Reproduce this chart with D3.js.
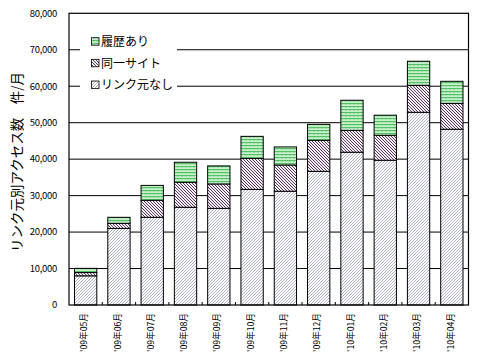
<!DOCTYPE html>
<html><head><meta charset="utf-8">
<script src="https://cdn.jsdelivr.net/npm/d3@7"></script>
<style>
body{margin:0;background:#fff;}
svg{display:block;}
text{font-family:"Noto Sans CJK JP","DejaVu Sans",sans-serif;fill:#000;}
</style></head>
<body>
<svg id="c" width="478" height="360"></svg>
<script>
const categories = ["'09年05月","'09年06月","'09年07月","'09年08月","'09年09月","'09年10月","'09年11月","'09年12月","'10年01月","'10年02月","'10年03月","'10年04月"];
const noSource = [8000,21000,24050,26800,26500,31700,31200,36650,41900,39700,52850,48200];
const sameSite = [900,1400,4650,6850,6700,8500,7200,8500,6000,6850,7400,7100];
const history  = [1150,1650,4100,5500,4950,6050,4950,4400,8250,5500,6600,6050];
const seriesNames = ["リンク元なし","同一サイト","履歴あり"];
const yTicks = [0,10000,20000,30000,40000,50000,60000,70000,80000];
const yTitle = "リンク元別アクセス数　件/月";

const svg = d3.select("#c");
const L=69, R=468.5, T=13.3, B=305;

// patterns
const defs = svg.append("defs");
const p1 = defs.append("pattern").attr("id","pBase").attr("patternUnits","userSpaceOnUse").attr("width",3).attr("height",3);
p1.append("rect").attr("width",3).attr("height",3).attr("fill","#fff");
p1.append("path").attr("d","M-1,1 L1,-1 M0,3 L3,0 M2,4 L4,2").attr("stroke","#9a9ab8").attr("stroke-width",0.8);
const p2 = defs.append("pattern").attr("id","pSame").attr("patternUnits","userSpaceOnUse").attr("width",3).attr("height",3);
p2.append("rect").attr("width",3).attr("height",3).attr("fill","#f2eef2");
p2.append("path").attr("d","M-1,2 L1,4 M0,0 L3,3 M2,-1 L4,1").attr("stroke","#5a3a60").attr("stroke-width",1);
const p3 = defs.append("pattern").attr("id","pHist").attr("patternUnits","userSpaceOnUse").attr("width",4).attr("height",3);
p3.append("rect").attr("width",4).attr("height",3).attr("fill","#eaf9ea");
p3.append("path").attr("d","M0,2.5 L1,0.8 L2,2.5 L3,0.8 L4,2.5").attr("stroke","#2fb845").attr("stroke-width",0.9).attr("fill","none");
const fills = ["url(#pBase)","url(#pSame)","url(#pHist)"];

const x = d3.scaleBand().domain(categories).range([L,R]).paddingInner(0.33).paddingOuter(0.165);
const y = d3.scaleLinear().domain([0,80000]).range([B,T]);

// gridlines
svg.append("g").selectAll("line").data(yTicks.slice(1,-1)).join("line")
  .attr("x1",L).attr("x2",R).attr("y1",d=>y(d)).attr("y2",d=>y(d))
  .attr("stroke","#000").attr("stroke-width",1);

// stacked bars
const rows = categories.map((c,i)=>({cat:c, a:noSource[i], b:sameSite[i], c:history[i]}));
const stack = d3.stack().keys(["a","b","c"])(rows);
stack.forEach((s,si)=>{
  svg.append("g").selectAll("rect").data(s).join("rect")
    .attr("x",d=>x(d.data.cat)).attr("width",x.bandwidth())
    .attr("y",d=>y(d[1])).attr("height",d=>y(d[0])-y(d[1]))
    .attr("fill",fills[si]).attr("stroke","#000").attr("stroke-width",1);
});

// frame
svg.append("rect").attr("x",L).attr("y",T).attr("width",R-L).attr("height",B-T)
  .attr("fill","none").attr("stroke","#000").attr("stroke-width",1.2);

// bottom tick marks at category boundaries
svg.append("g").selectAll("line").data(d3.range(1,categories.length)).join("line")
  .attr("x1",d=>L+(R-L)*d/categories.length).attr("x2",d=>L+(R-L)*d/categories.length)
  .attr("y1",B).attr("y2",B-3).attr("stroke","#000");

// y tick labels
svg.append("g").selectAll("text").data(yTicks).join("text")
  .attr("x",57).attr("y",d=>y(d)).attr("dy","0.35em").attr("text-anchor","end")
  .attr("font-size",9.5).attr("letter-spacing","-0.3")
  .text(d=>d3.format(",")(d));

// x labels
svg.append("g").selectAll("text").data(categories).join("text")
  .attr("transform",d=>`translate(${x(d)+x.bandwidth()/2-1.5},313) rotate(-90)`)
  .attr("text-anchor","end").attr("dy","0.35em").attr("font-size",9)
  .attr("textLength",39).attr("lengthAdjust","spacingAndGlyphs")
  .text(d=>d);

// y title
svg.append("text").attr("transform","translate(17,162) rotate(-90)")
  .attr("text-anchor","middle").attr("dy","0.35em").attr("font-size",13.5)
  .text(yTitle);

// legend
const lg = svg.append("g");
lg.append("rect").attr("x",80).attr("y",30).attr("width",97).attr("height",66).attr("fill","#fff");
const order = [2,1,0];
const ly = [41.7,63.3,85];
order.forEach((si,k)=>{
  lg.append("rect").attr("x",91.5).attr("y",ly[k]-4).attr("width",7.5).attr("height",7.5)
    .attr("fill",fills[si]).attr("stroke","#000").attr("stroke-width",0.8);
  lg.append("text").attr("x",101).attr("y",ly[k]).attr("dy","0.35em").attr("font-size",12)
    .text(seriesNames[si]);
});
</script>
</body></html>
